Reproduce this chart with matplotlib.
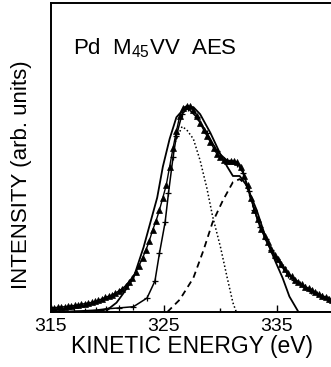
import numpy as np
import matplotlib.pyplot as plt

plt.rcParams['font.family'] = ['Liberation Sans', 'DejaVu Sans']

# measured spectrum (triangles)
exp_e = [315.0, 315.3, 315.6, 315.9, 316.2, 316.5, 316.8, 317.1, 317.4, 317.7,
         318.0, 318.3, 318.6, 318.9, 319.2, 319.5, 319.8, 320.1, 320.4, 320.7,
         321.0, 321.3, 321.6, 321.9, 322.2, 322.5, 322.8, 323.1, 323.4, 323.7,
         324.0, 324.3, 324.6, 324.9, 325.2, 325.5, 325.8, 326.1, 326.4, 326.7,
         327.0, 327.3, 327.6, 327.9, 328.2, 328.5, 328.8, 329.1, 329.4, 329.7,
         330.0, 330.3, 330.6, 330.9, 331.2, 331.5, 331.8, 332.1, 332.4, 332.7,
         333.0, 333.3, 333.6, 333.9, 334.2, 334.5, 334.8, 335.1, 335.4, 335.7,
         336.0, 336.3, 336.6, 336.9, 337.2, 337.5, 337.8, 338.1, 338.4, 338.7,
         339.0, 339.3, 339.6, 339.9]
exp_i = [0.013, 0.014, 0.015, 0.016, 0.017, 0.018, 0.020, 0.021, 0.023, 0.025,
         0.027, 0.029, 0.031, 0.034, 0.038, 0.042, 0.047, 0.051, 0.055, 0.061,
         0.068, 0.075, 0.085, 0.098, 0.11, 0.13, 0.15, 0.175, 0.20, 0.23,
         0.265, 0.295, 0.33, 0.37, 0.41, 0.47, 0.53, 0.585, 0.635, 0.66,
         0.667, 0.665, 0.655, 0.635, 0.61, 0.59, 0.57, 0.55, 0.53, 0.51,
         0.50, 0.493, 0.49, 0.49, 0.488, 0.485, 0.47, 0.44, 0.41, 0.37,
         0.33, 0.30, 0.27, 0.245, 0.225, 0.205, 0.185, 0.17, 0.155, 0.14,
         0.125, 0.115, 0.105, 0.097, 0.09, 0.082, 0.076, 0.07, 0.064, 0.058,
         0.053, 0.048, 0.043, 0.039]

# solid curve
sol_e = [315.0, 319.0, 319.6, 320.2, 320.8, 321.4, 322.3, 323.2, 323.8, 324.4,
         324.9, 325.5, 326.1, 326.9, 327.6, 328.2, 329.1, 330.0, 330.6, 331.1,
         331.7, 332.3, 333.2, 334.1, 334.9, 335.5, 336.1, 336.9, 340.0]
sol_i = [0.0, 0.002, 0.005, 0.013, 0.03, 0.06, 0.11, 0.21, 0.29, 0.37,
         0.47, 0.56, 0.63, 0.663, 0.663, 0.64, 0.58, 0.51, 0.47, 0.44,
         0.44, 0.41, 0.33, 0.23, 0.16, 0.11, 0.05, 0.0, 0.0]

# fit curve (plus markers)
fit_e = [315.0, 316.0, 317.0, 318.0, 319.0, 319.9, 321.0, 322.3, 323.5, 324.2,
         324.6, 325.1, 325.4, 325.8, 326.1, 326.6, 327.1, 327.9, 328.8, 329.7,
         330.6, 331.5, 332.0, 332.5, 333.0, 333.5, 334.0, 334.5, 335.0, 335.5,
         336.0, 336.5, 337.0, 337.5, 338.0, 338.5, 339.0, 339.5, 340.0]
fit_i = [0.0, 0.001, 0.002, 0.004, 0.006, 0.01, 0.013, 0.017, 0.045, 0.10,
         0.19, 0.29, 0.385, 0.50, 0.57, 0.64, 0.66, 0.63, 0.58, 0.52,
         0.49, 0.48, 0.45, 0.39, 0.33, 0.275, 0.235, 0.20, 0.17, 0.145,
         0.12, 0.105, 0.09, 0.08, 0.068, 0.058, 0.05, 0.043, 0.037]

# first component (dotted)
c1_e = [326.0, 326.6, 327.0, 327.6, 328.2, 328.8, 329.3, 330.0, 330.6, 331.1, 331.4]
c1_i = [0.55, 0.60, 0.59, 0.56, 0.49, 0.40, 0.31, 0.21, 0.11, 0.03, 0.0]

# second component (dashed)
c2_e = [325.3, 326.4, 327.6, 328.5, 329.3, 330.2, 331.1, 331.7, 332.3, 333.0,
        333.5, 334.0, 334.5, 335.0, 335.5, 336.0, 336.5, 337.0, 337.5, 338.0,
        338.5, 339.0, 339.5, 340.0]
c2_i = [0.0, 0.04, 0.11, 0.20, 0.29, 0.36, 0.42, 0.43, 0.41, 0.33,
        0.275, 0.235, 0.20, 0.17, 0.145, 0.12, 0.105, 0.09, 0.08, 0.068,
        0.058, 0.05, 0.043, 0.037]

fig = plt.figure(figsize=(3.31, 3.67), dpi=100)
ax = fig.add_axes([0.154, 0.150, 0.85, 0.842])

ax.plot(c1_e, c1_i, color='black', lw=1.1, linestyle=(0, (1, 1.5)))
ax.plot(c2_e, c2_i, color='black', lw=1.3, linestyle=(0, (3.5, 2.5)))
ax.plot(sol_e, sol_i, color='black', lw=1.3)
ax.plot(fit_e, fit_i, color='black', lw=1.1, marker='+', ms=4, mew=0.9)
ax.plot(exp_e, exp_i, color='black', lw=1.0, marker='^', ms=4, mew=0.5)

ax.set_xlim(315, 315 + 0.85 * 331 / 11.3)
ax.set_ylim(0, 1.0)
ax.spines['right'].set_visible(False)
for s in ['left', 'bottom', 'top']:
    ax.spines[s].set_linewidth(1.4)

ax.set_xticks([315, 325, 335])
ax.set_xticks([320, 330], minor=True)
ax.set_yticks([])
ax.tick_params(axis='x', which='major', direction='in', length=5, width=1,
               labelsize=14, pad=4)
ax.tick_params(axis='x', which='minor', direction='in', length=3, width=1)

ax.set_xlabel('KINETIC ENERGY (eV)', fontsize=16.5, labelpad=0)
ax.set_ylabel('INTENSITY (arb. units)', fontsize=16)
ax.yaxis.set_label_coords(-0.068, 0.443)

ax.text(0.08, 0.855, r'Pd  M$_{\mathregular{45}}$VV  AES', transform=ax.transAxes,
        fontsize=16, va='center', ha='left')

fig.savefig('out.png', dpi=100)
